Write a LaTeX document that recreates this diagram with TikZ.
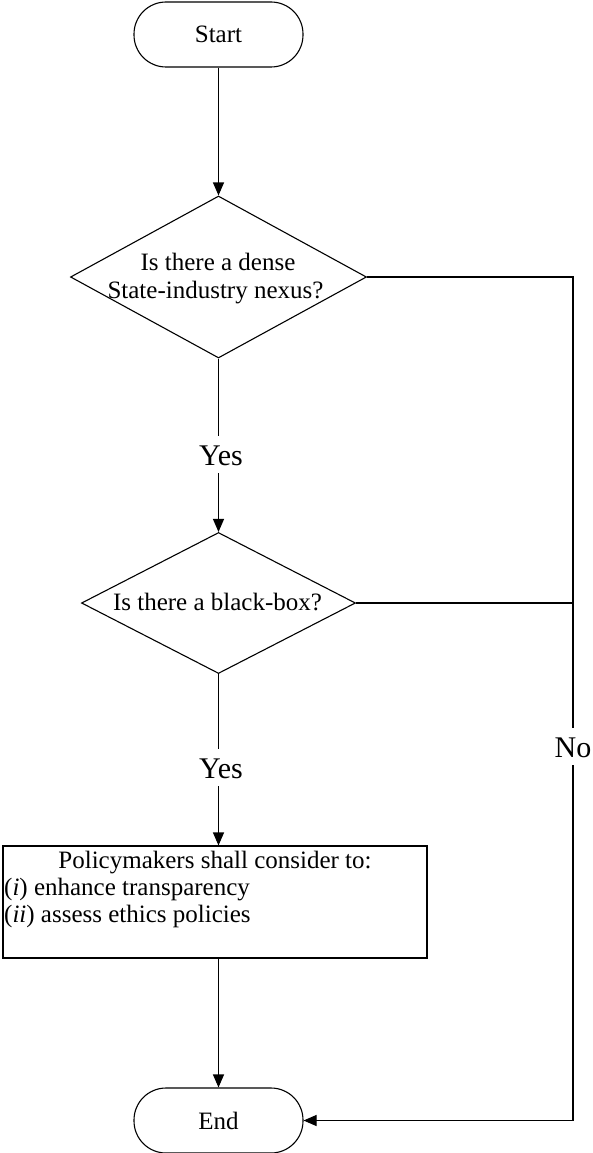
\documentclass[tikz,border=0pt]{standalone}
\usepackage{fontspec}
\setmainfont{Liberation Serif}
\usetikzlibrary{shapes.geometric,arrows.meta}

\tikzset{
  flow/.style={line width=1.1pt, black},
  arr/.style={flow, -{Triangle[width=11pt,length=13pt]}},
  terminal/.style={draw, flow, rectangle, rounded corners=32pt,
    minimum width=169pt, minimum height=65pt, inner sep=0pt,
    font=\fontsize{25}{27}\selectfont},
  decision/.style={draw, flow, diamond, inner sep=0pt},
  actionbox/.style={draw, flow, rectangle, inner sep=0pt},
  body/.style={inner sep=0pt, font=\fontsize{25}{27}\selectfont},
  branch/.style={inner xsep=2pt, inner ysep=8pt, text height=21pt, text depth=0pt,
    font=\fontsize{30}{32}\selectfont},
}

\begin{document}
\begin{tikzpicture}[x=1pt, y=-1pt]
  \useasboundingbox (0,0) rectangle (593,1153);

  % terminals
  \node[terminal] (start) at (218.5,34.5) {Start};
  \node[terminal] (end)   at (218.5,1120.5) {End};

  % decisions (outline and text set separately so the outline keeps its size)
  \node[decision, minimum width=296pt, minimum height=162pt] (d1) at (218.5,277) {};
  \node[body, anchor=base] (d1a) at (218,270) {Is there a dense};
  \node[body, anchor=base] (d1b) at (215.5,298) {State-industry nexus?};

  \node[decision, minimum width=274pt, minimum height=141pt] (d2) at (218.5,603) {};
  \node[body, anchor=base] (d2a) at (217.5,610) {Is there a black-box?};

  % action box
  \node[actionbox, minimum width=424pt, minimum height=112pt] (act) at (215,902) {};
  \node[body, anchor=base] (act1) at (215,868) {Policymakers shall consider to:};
  \node[body, anchor=base west] (act2) at (4,895) {(\textit{i}) enhance transparency};
  \node[body, anchor=base west] (act3) at (4,922) {(\textit{ii}) assess ethics policies};

  % branch labels
  \node[branch, anchor=base] (yes1) at (221,465) {Yes};
  \node[branch, anchor=base] (yes2) at (221,778) {Yes};
  \node[branch, anchor=base] (no)   at (573,757) {No};

  % main column
  \draw[arr] (start.south) -- (d1.north);
  \draw[flow] (d1.south) -- (d1.south |- yes1.north);
  \draw[arr] (d1.south |- yes1.south) -- (d2.north);
  \draw[flow] (d2.south) -- (d2.south |- yes2.north);
  \draw[arr] (d2.south |- yes2.south) -- (act.north -| d2.south);
  \draw[arr] (act.south -| d2.south) -- (end.north);

  % "No" branch on the right
  \draw[flow] (d1.east) -- (d1.east -| no.north) -- (no.north);
  \draw[flow] (d2.east) -- (d2.east -| no.north);
  \draw[arr] (no.south) |- (end.east);
\end{tikzpicture}
\end{document}
